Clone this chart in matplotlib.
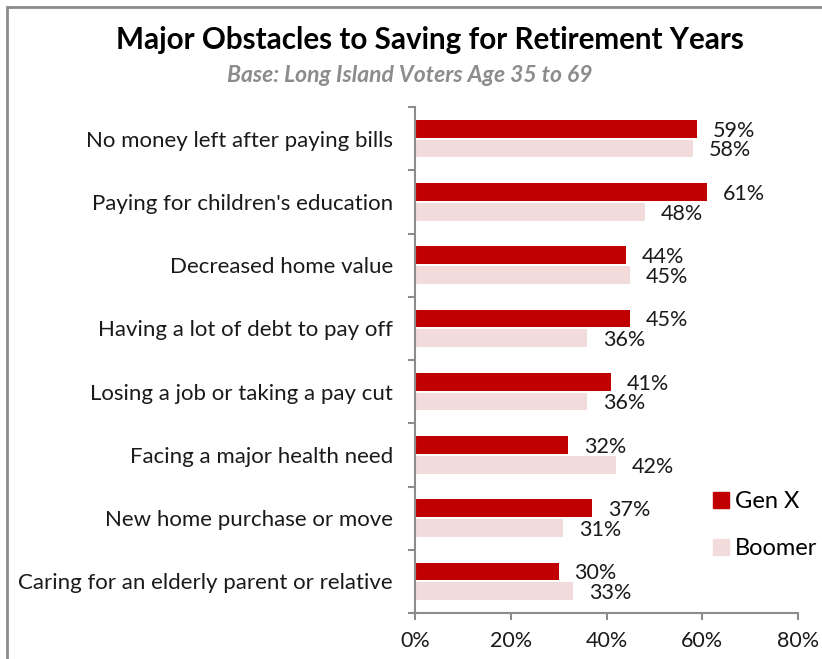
import numpy as np
import matplotlib
matplotlib.use('Agg')
import matplotlib.pyplot as plt
from matplotlib.patches import Rectangle, Patch

# ---------- datos ----------
categories = [
    "No money left after paying bills",
    "Paying for children's education",
    "Decreased home value",
    "Having a lot of debt to pay off",
    "Losing a job or taking a pay cut",
    "Facing a major health need",
    "New home purchase or move",
    "Caring for an elderly parent or relative",
]
gen_x = [59, 61, 44, 45, 41, 32, 37, 30]
boomer = [58, 48, 45, 36, 36, 42, 31, 33]
x_ticks = [0, 20, 40, 60, 80]

RED = '#C00000'
PINK = '#F2DCDB'
FONT = ['Lato', 'DejaVu Sans']

plt.rcParams['font.family'] = FONT

W, H = 822, 659
fig = plt.figure(figsize=(W / 100, H / 100), dpi=100)

# marco gris del gráfico
fig.patches.append(Rectangle((7 / W, -0.1), 2, (H - 7) / H + 0.1,
                             transform=fig.transFigure, fill=False,
                             edgecolor='#8c8c8c', linewidth=2))

ax = fig.add_axes([415 / W, 1 - 613 / H, (798 - 415) / W, (613 - 107) / H])

n = len(categories)
y = np.arange(n)
h = 0.28
gap = 0.03
ax.barh(y - (h + gap) / 2, gen_x, height=h, color=RED, label='Gen X')
ax.barh(y + (h + gap) / 2, boomer, height=h, color=PINK, label='Boomer')

for i in range(n):
    ax.text(gen_x[i] + 3.3, y[i] - (h + gap) / 2 + 0.03, f'{gen_x[i]}%',
            va='center', ha='left', fontsize=15.5, color='#1a1a1a')
    ax.text(boomer[i] + 3.3, y[i] + (h + gap) / 2 + 0.03, f'{boomer[i]}%',
            va='center', ha='left', fontsize=15.5, color='#1a1a1a')

ax.set_ylim(n - 0.5, -0.5)
ax.set_xlim(0, 80)

ax.set_xticks(x_ticks)
ax.set_xticklabels([f'{v}%' for v in x_ticks], fontsize=15.5, color='#1a1a1a')
ax.set_yticks(y)
ax.set_yticklabels(categories, fontsize=16, color='#1a1a1a')
ax.set_yticks(np.arange(n + 1) - 0.5, minor=True)
ax.tick_params(axis='y', which='major', length=0, pad=16)
ax.tick_params(axis='y', which='minor', length=5, color='#8c8c8c', width=1.5)
ax.tick_params(axis='x', length=5, color='#8c8c8c', width=1.5, pad=8)

for s in ['top', 'right']:
    ax.spines[s].set_visible(False)
for s in ['left', 'bottom']:
    ax.spines[s].set_color('#8c8c8c')
    ax.spines[s].set_linewidth(1.5)

leg = ax.legend(handles=[Patch(color=RED, label='Gen X'), Patch(color=PINK, label='Boomer')],
                loc='upper left', bbox_to_anchor=(692 / W, 1 - 470 / H),
                bbox_transform=fig.transFigure, frameon=False, fontsize=17,
                handlelength=0.65, handleheight=0.65, handletextpad=0.25,
                labelspacing=1.1)

fig.text(430 / W, 1 - 40 / H, 'Major Obstacles to Saving for Retirement Years',
         ha='center', va='center', fontsize=21.3, fontweight='bold', color='black')
fig.text(410 / W, 1 - 75 / H, 'Base: Long Island Voters Age 35 to 69',
         ha='center', va='center', fontsize=16.5, fontweight='bold',
         style='italic', color='#8c8c8c')

fig.savefig('out.png', dpi=100)
